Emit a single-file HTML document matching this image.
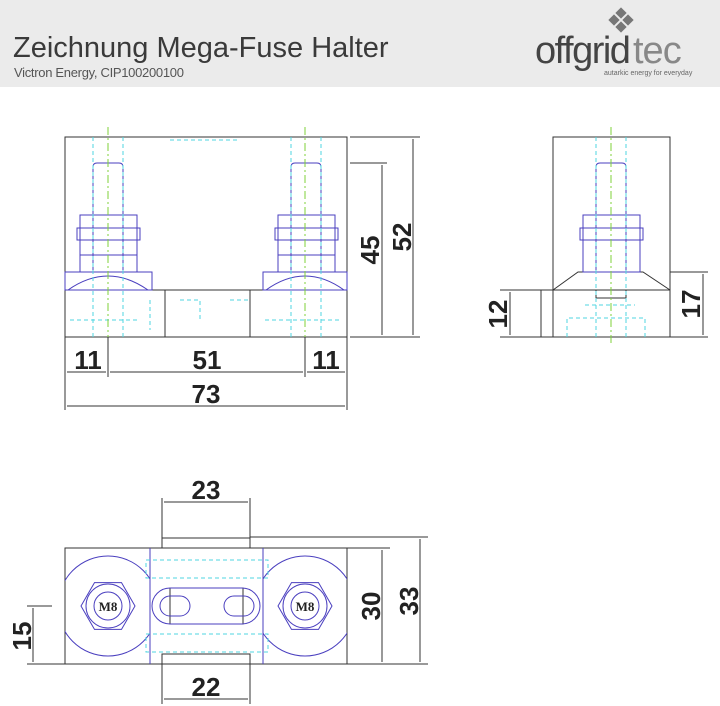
<!DOCTYPE html>
<html><head><meta charset="utf-8"><style>
body{margin:0;width:720px;height:706px;background:#fff;overflow:hidden;position:relative;font-family:"Liberation Sans",sans-serif}
.hdr{position:absolute;left:0;top:0;width:720px;height:87px;background:#ebebeb}
</style></head><body>
<div class="hdr"></div>
<svg width="720" height="706" style="position:absolute;left:0;top:0" xmlns="http://www.w3.org/2000/svg">
<defs>
<clipPath id="cl"><rect x="65" y="548" width="85" height="116"/></clipPath>
<clipPath id="cr"><rect x="263" y="548" width="84" height="116"/></clipPath>
</defs>
<text x="13" y="57" font-size="29" fill="#3a3a3a" font-family="Liberation Sans, sans-serif" letter-spacing="0">Zeichnung Mega-Fuse Halter</text>
<text x="14" y="77" font-size="13" fill="#555" font-family="Liberation Sans, sans-serif" letter-spacing="-0.3">Victron Energy, CIP100200100</text>
<g fill="#777"><rect x="617" y="9" width="8" height="8" transform="rotate(45 621 13)"/><rect x="610" y="16" width="8" height="8" transform="rotate(45 614 20)"/><rect x="624" y="16" width="8" height="8" transform="rotate(45 628 20)"/><rect x="617" y="23" width="8" height="8" transform="rotate(45 621 27)"/></g>
<text x="535" y="63" font-size="38" fill="#444" font-family="Liberation Sans, sans-serif" letter-spacing="-1.5">offgrid</text>
<text x="633" y="63" font-size="38" fill="#888" font-family="Liberation Sans, sans-serif" letter-spacing="-1">tec</text>
<text x="604" y="75" font-size="7" fill="#666">autarkic energy for everyday</text>

<g fill="none" stroke-width="1">
<g stroke="#333">
<rect x="65" y="137" width="282" height="200"/>
<line x1="65" y1="290" x2="347" y2="290"/>
<line x1="165" y1="290" x2="165" y2="337"/><line x1="250" y1="290" x2="250" y2="337"/>
</g>
<g stroke="#4a3fbf">
<rect x="65" y="272" width="87" height="18"/><rect x="263" y="272" width="84" height="18"/>
<path d="M68 290 Q108 262 148 290"/><path d="M266 290 Q305 262 344 290"/>
<path d="M93 272V167q0-4 4-4h22q4 0 4 4v105"/><path d="M291 272V167q0-4 4-4h22q4 0 4 4v105"/>
<rect x="80" y="215" width="57" height="57"/><rect x="77" y="228" width="63" height="12"/>
<rect x="278" y="215" width="57" height="57"/><rect x="275" y="228" width="63" height="12"/>
<line x1="93" y1="215" x2="93" y2="272"/><line x1="123" y1="215" x2="123" y2="272"/>
<line x1="291" y1="215" x2="291" y2="272"/><line x1="321" y1="215" x2="321" y2="272"/>
<line x1="80" y1="255" x2="137" y2="255"/><line x1="278" y1="255" x2="335" y2="255"/>
</g>
<g stroke="#4fd6e0" stroke-dasharray="4 3">
<line x1="93" y1="137" x2="93" y2="337"/><line x1="123" y1="137" x2="123" y2="337"/>
<line x1="291" y1="137" x2="291" y2="337"/><line x1="321" y1="137" x2="321" y2="337"/>
<path d="M70 320H140M150 300V330M180 300H200V320M230 300H250M265 320H340M170 140H240"/>
</g>
<g stroke="#7fd13a" stroke-dasharray="8 3 2 3"><line x1="108" y1="127" x2="108" y2="340"/><line x1="305" y1="127" x2="305" y2="340"/></g>
<g stroke="#333">
<line x1="350" y1="163" x2="387" y2="163"/><line x1="350" y1="337" x2="420" y2="337"/><line x1="350" y1="137" x2="420" y2="137"/>
<line x1="382" y1="165" x2="382" y2="335"/><line x1="413" y1="139" x2="413" y2="335"/>
<line x1="65" y1="337" x2="65" y2="410"/><line x1="347" y1="337" x2="347" y2="410"/>
<line x1="108" y1="337" x2="108" y2="377"/><line x1="305" y1="337" x2="305" y2="377"/>
<line x1="67" y1="372" x2="106" y2="372"/><line x1="110" y1="372" x2="303" y2="372"/><line x1="307" y1="372" x2="345" y2="372"/>
<line x1="67" y1="406" x2="345" y2="406"/>
</g>
<g stroke="#333">
<rect x="553" y="137" width="117" height="200"/>
<line x1="541" y1="290" x2="670" y2="290"/><rect x="541" y="290" width="12" height="47"/>
<line x1="670" y1="272" x2="708" y2="272"/><line x1="670" y1="337" x2="708" y2="337"/>
<line x1="500" y1="290" x2="541" y2="290"/><line x1="500" y1="337" x2="541" y2="337"/>
<line x1="510" y1="292" x2="510" y2="335"/><line x1="703" y1="274" x2="703" y2="335"/>
<path d="M553 290L578 272H643L670 290"/>
<rect x="596" y="290" width="30" height="8"/>
</g>
<g stroke="#4a3fbf">
<path d="M596 272V167q0-4 4-4h22q4 0 4 4v105"/>
<rect x="583" y="215" width="57" height="57"/><rect x="580" y="228" width="63" height="12"/>
<line x1="596" y1="215" x2="596" y2="272"/><line x1="626" y1="215" x2="626" y2="272"/>
</g>
<g stroke="#4fd6e0" stroke-dasharray="4 3"><line x1="596" y1="137" x2="596" y2="337"/><line x1="626" y1="137" x2="626" y2="337"/><path d="M567 337V318H645V337M585 305H635"/></g>
<line x1="611" y1="127" x2="611" y2="345" stroke="#7fd13a" stroke-dasharray="8 3 2 3"/>
<g stroke="#333">
<rect x="65" y="548" width="282" height="116"/>
<path d="M162 548V538H250V548M162 664V654H250V664"/>
<line x1="162" y1="498" x2="162" y2="538"/><line x1="250" y1="498" x2="250" y2="538"/><line x1="164" y1="502" x2="248" y2="502"/>
<line x1="162" y1="664" x2="162" y2="704"/><line x1="250" y1="664" x2="250" y2="704"/><line x1="164" y1="699" x2="248" y2="699"/>
<line x1="250" y1="537" x2="428" y2="537"/><line x1="347" y1="548" x2="390" y2="548"/><line x1="347" y1="664" x2="428" y2="664"/>
<line x1="382" y1="550" x2="382" y2="662"/><line x1="420" y1="539" x2="420" y2="662"/>
<line x1="27" y1="606" x2="52" y2="606"/><line x1="27" y1="664" x2="65" y2="664"/><line x1="33" y1="608" x2="33" y2="662"/>
<rect x="170" y="588" width="73" height="36"/>
</g>
<g stroke="#4a3fbf">
<line x1="150" y1="548" x2="150" y2="664"/><line x1="263" y1="548" x2="263" y2="664"/>
<circle cx="108" cy="606" r="50" clip-path="url(#cl)"/>
<circle cx="305" cy="606" r="50" clip-path="url(#cr)"/>
<polygon points="135,606 121.5,629.4 94.5,629.4 81,606 94.5,582.6 121.5,582.6"/>
<polygon points="332,606 318.5,629.4 291.5,629.4 278,606 291.5,582.6 318.5,582.6"/>
<circle cx="108" cy="606" r="22"/><circle cx="108" cy="606" r="14"/>
<circle cx="305" cy="606" r="22"/><circle cx="305" cy="606" r="14"/>
<rect x="152" y="588" width="108" height="36" rx="18"/>
<rect x="160" y="596" width="30" height="20" rx="10"/><rect x="224" y="596" width="30" height="20" rx="10"/>
</g>
<g stroke="#4fd6e0" stroke-dasharray="4 3"><rect x="146" y="560" width="122" height="18"/><rect x="146" y="634" width="122" height="18"/></g>
</g>
<g font-family="Liberation Sans, sans-serif" font-weight="bold" font-size="26" fill="#222" text-anchor="middle">
<text x="88" y="369">11</text><text x="207" y="369">51</text><text x="326" y="369">11</text><text x="206" y="403">73</text>
<text transform="translate(379 250) rotate(-90)">45</text><text transform="translate(411 237) rotate(-90)">52</text>
<text transform="translate(507 314) rotate(-90)">12</text><text transform="translate(700 304) rotate(-90)">17</text>
<text x="206" y="499">23</text><text x="206" y="696">22</text>
<text transform="translate(380 606) rotate(-90)">30</text><text transform="translate(418 601) rotate(-90)">33</text>
<text transform="translate(31 636) rotate(-90)">15</text>
</g>
<g font-family="Liberation Serif, serif" font-weight="bold" font-size="13" fill="#222" text-anchor="middle"><text x="108" y="611">M8</text><text x="305" y="611">M8</text></g>
</svg>
</body></html>
